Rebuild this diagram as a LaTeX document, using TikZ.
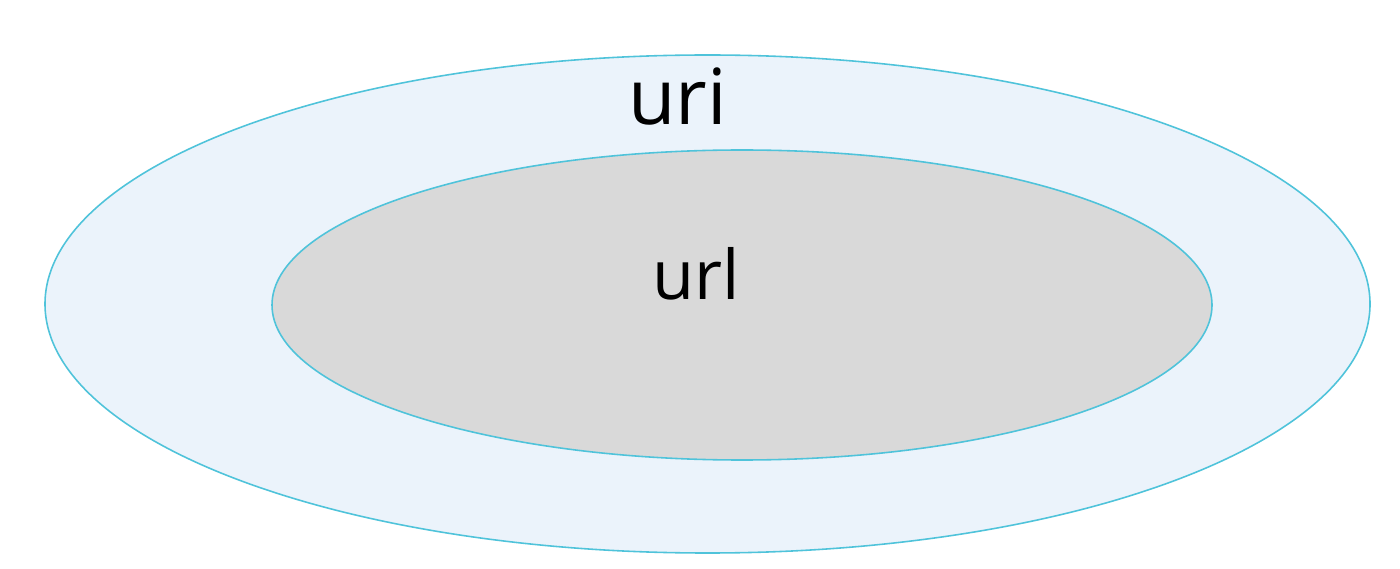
\documentclass[tikz,border=0pt]{standalone}
\usepackage{fontspec}
\setmainfont{Open Sans}
\usetikzlibrary{shapes.geometric}
\definecolor{ringline}{HTML}{4FC3DA}
\definecolor{outerfill}{HTML}{EBF3FB}
\definecolor{innerfill}{HTML}{D9D9D9}
\begin{document}
\begin{tikzpicture}[
  every node/.style={inner sep=0pt},
  set/.style={ellipse,draw=ringline,line width=0.9pt},
  word/.style={anchor=base,text=black}
]
\useasboundingbox (0,0) rectangle (28,-11.38);
\node[set,fill=outerfill,minimum width=26.5cm,minimum height=9.96cm] (uri) at (14.15,-6.08) {};
\node[set,fill=innerfill,minimum width=18.8cm,minimum height=6.2cm] (url) at (14.84,-6.1) {};
\node[word,font=\fontsize{44}{48}\selectfont] (urilabel) at (13.55,-2.5) {uri};
\node[word,font=\fontsize{39}{42}\selectfont] (urllabel) at (13.92,-6.0) {url};
\end{tikzpicture}
\end{document}
